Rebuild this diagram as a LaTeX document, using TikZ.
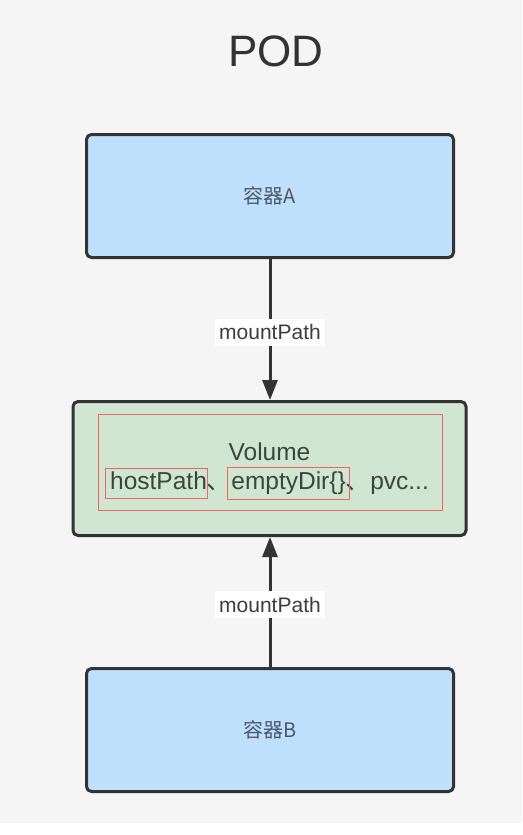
\documentclass[tikz,border=0pt]{standalone}
\usepackage{fontspec}
\setmainfont{Liberation Sans}
\newfontfamily\cjk{Noto Sans CJK SC}
\usetikzlibrary{arrows.meta}
\definecolor{bgcol}{HTML}{F5F5F5}
\definecolor{boxblue}{HTML}{BFE0FD}
\definecolor{boxgreen}{HTML}{D0E6D0}
\definecolor{edgecol}{HTML}{333333}
\definecolor{txtcol}{HTML}{3C3C3C}
\definecolor{bluetxt}{HTML}{4A5866}
\definecolor{greentxt}{HTML}{3A463A}
\definecolor{redmark}{HTML}{F06464}
\begin{document}
\begin{tikzpicture}[x=1pt,y=-1pt,
  container/.style={draw=edgecol, line width=3pt, rounded corners=5pt, fill=boxblue,
    minimum width=367pt, minimum height=123pt, text=bluetxt, inner sep=0pt,
    font=\cjk\fontsize{20}{23}\selectfont},
  volbox/.style={draw=edgecol, line width=3pt, rounded corners=5pt, fill=boxgreen,
    minimum width=393pt, minimum height=134pt, text=greentxt, inner sep=0pt, align=center,
    font=\fontsize{24.5}{29.5}\selectfont},
  conn/.style={draw=edgecol, line width=3pt, -{Triangle[length=20pt,width=15pt]}},
  lbl/.style={fill=white, text=txtcol, inner xsep=4pt, inner ysep=5.5pt,
    font=\fontsize{21}{24}\selectfont},
  annot/.style={draw=redmark, line width=1pt}
]
\fill[white] (0,0) rectangle (522,835);
\fill[bgcol] (0,0) rectangle (522,823);
\useasboundingbox (0,0) rectangle (522,835);

\node[font=\fontsize{44}{50}\selectfont, text=edgecol] (title) at (276,51) {POD};

\node[container] (A) at (270,196) {容器A};
\node[volbox] (V) at (269.5,468.5) {Volume\\hostPath{\cjk 、}emptyDir\{\}{\cjk 、}pvc...};
\node[container] (B) at (270,730) {容器B};

\draw[conn] (A.south) -- node[lbl, pos=0.52] (l1) {mountPath} (A.south |- V.north);
\draw[conn] (B.north) -- node[lbl, pos=0.48] (l2) {mountPath} (B.north |- V.south);

\draw[annot] (98,414) rectangle (442,510);
\draw[annot] (105,468) rectangle (207,498);
\draw[annot] (227,467) rectangle (349,499);
\end{tikzpicture}
\end{document}
